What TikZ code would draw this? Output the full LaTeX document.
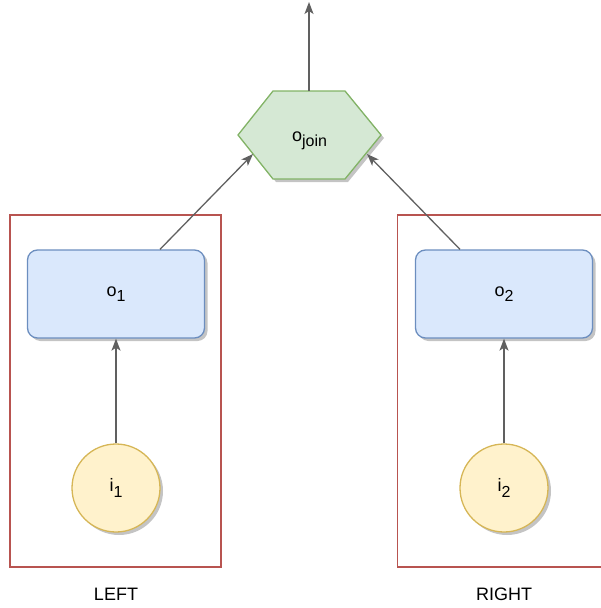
\documentclass[tikz,border=0pt]{standalone}
\usepackage{fontspec}
\setmainfont{Liberation Sans}
\usetikzlibrary{arrows.meta,calc,shadows}
\definecolor{bluefill}{HTML}{DAE8FC}
\definecolor{bluedraw}{HTML}{6C8EBF}
\definecolor{greenfill}{HTML}{D5E8D4}
\definecolor{greendraw}{HTML}{82B366}
\definecolor{yellowfill}{HTML}{FFF2CC}
\definecolor{yellowdraw}{HTML}{D6B656}
\definecolor{reddraw}{HTML}{B85450}
\definecolor{edgecol}{HTML}{606060}
\definecolor{shadowcol}{HTML}{C4C4C4}
\newcommand{\mysub}[1]{\raisebox{-0.3em}{\fontsize{16}{18}\selectfont #1}}
\tikzset{
  lbl/.style={font=\fontsize{18}{21}\selectfont, text=black},
  shadowed/.style={drop shadow={shadow xshift=3pt, shadow yshift=-3pt, fill=shadowcol, opacity=1}},
  opbox/.style={lbl, rectangle, rounded corners=10pt, draw=bluedraw, fill=bluefill, line width=1.3pt,
    minimum width=177pt, minimum height=88pt, inner sep=0pt, shadowed},
  inbox/.style={lbl, circle, draw=yellowdraw, fill=yellowfill, line width=1.3pt,
    minimum size=88pt, inner sep=0pt, shadowed},
  groupline/.style={draw=reddraw, line width=1.3pt},
  conn/.style={draw=edgecol, line width=1.3pt, -{Stealth[length=12pt,width=9pt,inset=3pt]}},
}
\begin{document}
\begin{tikzpicture}[x=1pt,y=-1pt]
\useasboundingbox (0,0) rectangle (601,608);
% groups
\draw[groupline] (10,215) rectangle (221,567);
\draw[groupline] (603,215) -- (397.5,215) -- (397.5,567) -- (603,567);
% hexagon
\coordinate (hA) at (273,91);
\coordinate (hB) at (345,91);
\coordinate (hC) at (381,135);
\coordinate (hD) at (345,179);
\coordinate (hE) at (273,179);
\coordinate (hF) at (238,135);
\fill[shadowcol] ($(hA)+(3,3)$) -- ($(hB)+(3,3)$) -- ($(hC)+(3,3)$) -- ($(hD)+(3,3)$) -- ($(hE)+(3,3)$) -- ($(hF)+(3,3)$) -- cycle;
\draw[draw=greendraw, fill=greenfill, line width=1.3pt, line join=miter] (hA) -- (hB) -- (hC) -- (hD) -- (hE) -- (hF) -- cycle;
\node[lbl] (join) at (309.5,141) {o\mysub{join}};
\coordinate (hexTop) at (309,91);
\coordinate (topEnd) at (309,2);
\coordinate (hexL) at (253,154);
\coordinate (hexR) at (367,154);
% operator boxes
\node[opbox] (o1) at (116,294) {o\mysub{1}};
\node[opbox] (o2) at (504,294) {o\mysub{2}};
% inputs
\node[inbox] (i1) at (116,488) {i\mysub{1}};
\node[inbox] (i2) at (504,488) {i\mysub{2}};
% group labels
\node[lbl] (left) at (116,594) {LEFT};
\node[lbl] (right) at (504,594) {RIGHT};
% connectors
\draw[conn] (i1.north) -- (o1.south);
\draw[conn] (i2.north) -- (o2.south);
\draw[conn] ($(o1.north)+(44,0)$) -- (hexL);
\draw[conn] ($(o2.north)+(-44,0)$) -- (hexR);
\draw[conn] (hexTop) -- (topEnd);
\end{tikzpicture}
\end{document}
